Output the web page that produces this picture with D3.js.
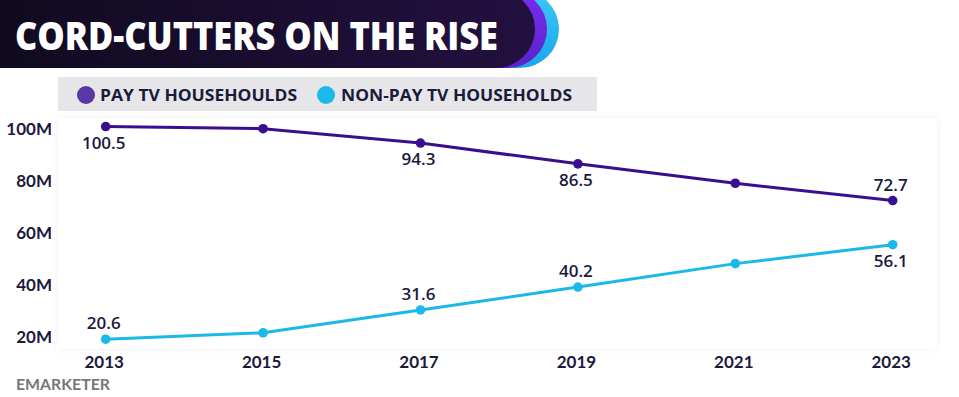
<!DOCTYPE html>
<html>
<head>
<meta charset="utf-8">
<script src="https://cdn.jsdelivr.net/npm/d3@7"></script>
<style>
  html, body { margin: 0; padding: 0; background: #ffffff; }
  svg { display: block; }
</style>
</head>
<body>
<svg id="chart" width="959" height="397"></svg>
<script>
// ---- data ----
const years = [2013, 2015, 2017, 2019, 2021, 2023];
const payTV = [100.5, 99.7, 94.3, 86.5, 79.2, 72.7];
const nonPayTV = [20.6, 23.0, 31.6, 40.2, 49.0, 56.1];
const payLabels = ["100.5", null, "94.3", "86.5", null, "72.7"];
const nonPayLabels = ["20.6", null, "31.6", "40.2", null, "56.1"];
const yTicks = [20, 40, 60, 80, 100];
const titleText = "CORD-CUTTERS ON THE RISE";
const legendNames = ["PAY TV HOUSEHOULDS", "NON-PAY TV HOUSEHOLDS"];
const sourceText = "EMARKETER";

const payColor = "#3a0f8f";
const payLegendColor = "#5a36a6";
const nonPayColor = "#1bb9ea";
const textDark = "#1c1a3c";

const svg = d3.select("#chart");
const defs = svg.append("defs");

// ---- header banner ----
const g1 = defs.append("linearGradient").attr("id", "bannerGrad").attr("x1", "0").attr("x2", "1");
g1.append("stop").attr("offset", "0%").attr("stop-color", "#0e0a1b");
g1.append("stop").attr("offset", "100%").attr("stop-color", "#22103f");
const g2 = defs.append("linearGradient").attr("id", "cyanGrad").attr("x1", "0").attr("y1", "0").attr("x2", "0").attr("y2", "1");
g2.append("stop").attr("offset", "0%").attr("stop-color", "#3cc8f4");
g2.append("stop").attr("offset", "100%").attr("stop-color", "#1aa6ec");
const g3 = defs.append("linearGradient").attr("id", "purpGrad").attr("x1", "0").attr("y1", "0").attr("x2", "0").attr("y2", "1");
g3.append("stop").attr("offset", "0%").attr("stop-color", "#7a2cf2");
g3.append("stop").attr("offset", "100%").attr("stop-color", "#5b23c8");

const bannerH = 68;
svg.append("rect").attr("x", -80).attr("y", -10).attr("width", 559 + 80).attr("height", bannerH + 10)
  .attr("rx", 39).attr("fill", "url(#cyanGrad)");
svg.append("rect").attr("x", -80).attr("y", -10).attr("width", 547 + 80).attr("height", bannerH + 10)
  .attr("rx", 39).attr("fill", "url(#purpGrad)");
svg.append("rect").attr("x", -80).attr("y", -10).attr("width", 535 + 80).attr("height", bannerH + 10)
  .attr("rx", 39).attr("fill", "url(#bannerGrad)");

svg.append("text").attr("x", 15).attr("y", 50)
  .attr("font-family", "'Open Sans', sans-serif").attr("font-weight", 800)
  .attr("font-size", 38).attr("fill", "#ffffff")
  .attr("textLength", 483).attr("lengthAdjust", "spacingAndGlyphs")
  .text(titleText);

// ---- legend ----
svg.append("rect").attr("x", 58).attr("y", 77).attr("width", 539).attr("height", 34).attr("fill", "#e6e6e8");
const legend = [
  { name: legendNames[0], color: payLegendColor, cx: 86, tx: 100, w: 197 },
  { name: legendNames[1], color: nonPayColor, cx: 326, tx: 341, w: 231 }
];
legend.forEach(d => {
  svg.append("circle").attr("cx", d.cx).attr("cy", 95).attr("r", 9).attr("fill", d.color);
  svg.append("text").attr("x", d.tx).attr("y", 101)
    .attr("font-family", "'Open Sans', sans-serif").attr("font-weight", 700)
    .attr("font-size", 16).attr("fill", textDark)
    .attr("textLength", d.w).attr("lengthAdjust", "spacingAndGlyphs")
    .text(d.name);
});

// ---- plot panel ----
const shadow = defs.append("filter").attr("id", "shadow").attr("x", "-5%").attr("y", "-5%").attr("width", "110%").attr("height", "110%");
shadow.append("feDropShadow").attr("dx", 0).attr("dy", 0).attr("stdDeviation", 3)
  .attr("flood-color", "#8080a0").attr("flood-opacity", 0.12);
svg.append("rect").attr("x", 58).attr("y", 118).attr("width", 879).attr("height", 231)
  .attr("fill", "#ffffff").attr("filter", "url(#shadow)");

// ---- scales ----
const x = d3.scalePoint().domain(years).range([105.7, 892.7]);
const y = d3.scaleLinear().domain([20, 100]).range([340.8, 127.9]);

// ---- axes ----
const yAxis = svg.append("g").attr("transform", "translate(52,0)")
  .call(d3.axisLeft(y).tickValues(yTicks).tickSize(0).tickPadding(0).tickFormat(d => d + "M"));
yAxis.select(".domain").remove();
yAxis.selectAll("text")
  .attr("font-family", "Lato, sans-serif").attr("font-weight", 700)
  .attr("font-size", 17).attr("fill", textDark)
  .attr("dy", "0.36em")
  .attr("transform", d => `translate(0,${(100 - d) * -0.055})`);

const xAxis = svg.append("g").attr("transform", "translate(-2,350)")
  .call(d3.axisBottom(x).tickSize(0).tickPadding(0).tickFormat(d3.format("d")));
xAxis.select(".domain").remove();
xAxis.selectAll("text")
  .attr("font-family", "Lato, sans-serif").attr("font-weight", 700)
  .attr("font-size", 17).attr("fill", textDark)
  .attr("dy", "1.07em");

// ---- lines ----
const line = d3.line().x((d, i) => x(years[i])).y(d => y(d));
const series = [
  { values: payTV, labels: payLabels, color: payColor, below: [true, true, true, true, true, false] },
  { values: nonPayTV, labels: nonPayLabels, color: nonPayColor, below: [false, false, false, false, false, true] }
];
series.forEach(s => {
  const pts = s.values.map((v, i) => ({ year: years[i], value: v, label: s.labels[i], below: s.below[i] }));
  svg.append("path").datum(pts).attr("d", d3.line().x(d => x(d.year)).y(d => y(d.value)))
    .attr("fill", "none").attr("stroke", s.color).attr("stroke-width", 3)
    .attr("stroke-linejoin", "round");
  svg.selectAll(null).data(pts).enter().append("circle")
    .attr("cx", d => x(d.year)).attr("cy", d => y(d.value)).attr("r", 4.8)
    .attr("fill", s.color);
  svg.selectAll(null).data(pts.filter(d => d.label !== null)).enter()
    .append("text")
    .attr("x", d => x(d.year) - 2)
    .attr("y", d => y(d.value) + (d.below ? 22 : -10))
    .attr("text-anchor", "middle")
    .attr("font-family", "'Open Sans', sans-serif").attr("font-weight", 600)
    .attr("font-size", 17).attr("fill", textDark)
    .text(d => d.label);
});

// ---- source ----
svg.append("text").attr("x", 16).attr("y", 390)
  .attr("font-family", "Lato, sans-serif").attr("font-weight", 700)
  .attr("font-size", 16).attr("fill", "#77777a")
  .attr("textLength", 94).attr("lengthAdjust", "spacingAndGlyphs")
  .text(sourceText);
</script>
</body>
</html>
